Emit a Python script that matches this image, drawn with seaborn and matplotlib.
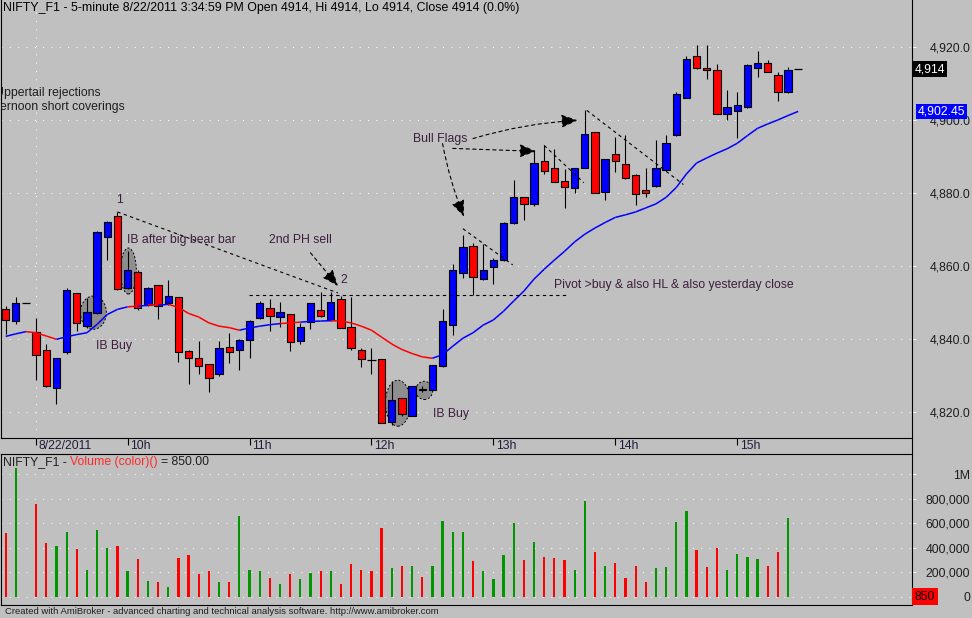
import numpy as np
import pandas as pd
import seaborn as sns
import matplotlib.pyplot as plt
from matplotlib.collections import LineCollection
from matplotlib.patches import Ellipse
from matplotlib.lines import Line2D
from matplotlib.ticker import FuncFormatter

# 5-minute bars, index 0..2 = end of previous session, 3 = 9:15 on 8/22
opens = [4848.3, 4845.0, 4850.0, 4842.0, 4837.2, 4826.7, 4836.5, 4852.6, 4843.6, 4847.3,
         4867.9, 4873.8, 4854.0, 4858.5, 4849.4, 4854.8, 4849.9, 4851.5, 4836.8, 4834.8,
         4833.1, 4830.4, 4837.9, 4837.0, 4839.7, 4845.7, 4848.7, 4846.0, 4846.8, 4839.5,
         4844.7, 4848.1, 4845.2, 4851.0, 4843.4, 4837.2, 4834.4, 4834.5, 4817.3, 4823.8,
         4819.1, 4826.4, 4826.0, 4832.8, 4843.8, 4858.3, 4865.6, 4856.5, 4859.8, 4861.7,
         4871.8, 4878.9, 4877.1, 4888.8, 4886.8, 4883.3, 4881.5, 4887.0, 4896.7, 4880.4,
         4890.8, 4888.0, 4885.0, 4881.0, 4882.0, 4886.4, 4896.0, 4906.2, 4917.5, 4914.4,
         4913.9, 4901.8, 4902.6, 4903.6, 4914.4, 4915.8, 4912.3, 4907.7, 4914.0]
highs = [4849.1, 4851.7, 4850.0, 4845.7, 4838.8, 4835.0, 4854.0, 4852.8, 4851.4, 4869.7,
         4872.5, 4875.0, 4864.2, 4859.0, 4854.2, 4855.0, 4856.3, 4851.7, 4837.0, 4839.5,
         4833.3, 4839.5, 4841.6, 4840.0, 4845.2, 4850.5, 4851.0, 4850.2, 4847.0, 4844.4,
         4850.0, 4853.0, 4853.0, 4851.9, 4851.6, 4837.5, 4837.7, 4834.5, 4828.5, 4824.0,
         4827.3, 4827.3, 4833.0, 4848.2, 4860.7, 4868.5, 4866.5, 4866.2, 4862.4, 4872.2,
         4883.7, 4879.1, 4891.9, 4893.1, 4892.2, 4886.7, 4887.0, 4902.7, 4896.9, 4889.5,
         4895.5, 4896.0, 4885.2, 4886.8, 4894.5, 4896.1, 4907.7, 4917.5, 4920.5, 4920.5,
         4915.3, 4908.4, 4907.7, 4915.5, 4918.9, 4916.4, 4913.2, 4914.6, 4914.0]
lows = [4841.4, 4844.1, 4850.0, 4828.8, 4827.0, 4822.3, 4836.0, 4842.3, 4843.2, 4847.0,
        4861.8, 4853.5, 4853.8, 4848.0, 4849.0, 4845.6, 4849.5, 4833.7, 4827.8, 4830.4,
        4825.6, 4830.0, 4833.5, 4831.5, 4834.9, 4845.5, 4842.4, 4843.5, 4836.8, 4838.8,
        4842.7, 4846.0, 4845.0, 4843.0, 4837.0, 4832.5, 4830.5, 4817.0, 4816.6, 4819.0,
        4819.0, 4825.6, 4826.0, 4832.5, 4841.3, 4856.9, 4852.2, 4856.3, 4855.1, 4861.5,
        4871.6, 4872.7, 4876.6, 4885.3, 4883.0, 4876.1, 4880.0, 4886.8, 4880.0, 4878.2,
        4885.9, 4884.0, 4876.8, 4879.1, 4881.8, 4886.2, 4895.8, 4906.0, 4914.1, 4911.4,
        4901.8, 4900.1, 4895.2, 4903.4, 4911.8, 4913.3, 4905.4, 4907.5, 4914.0]
closes = [4845.3, 4849.9, 4850.0, 4835.7, 4827.3, 4834.9, 4853.4, 4844.4, 4847.5, 4869.5,
          4872.2, 4853.9, 4859.0, 4848.7, 4854.0, 4849.1, 4851.8, 4836.4, 4834.8, 4832.8,
          4829.3, 4837.7, 4836.4, 4839.7, 4845.0, 4849.9, 4846.3, 4847.5, 4839.2, 4843.5,
          4849.9, 4846.3, 4850.2, 4843.0, 4837.5, 4834.6, 4834.4, 4817.2, 4823.4, 4819.4,
          4827.3, 4826.0, 4832.9, 4845.0, 4858.9, 4865.3, 4857.1, 4859.0, 4861.7, 4871.8,
          4878.9, 4877.1, 4888.3, 4886.2, 4883.2, 4881.8, 4886.8, 4896.3, 4880.1, 4889.3,
          4888.9, 4884.2, 4879.8, 4880.2, 4887.0, 4893.8, 4907.3, 4916.9, 4914.4, 4913.9,
          4901.8, 4903.6, 4904.3, 4915.2, 4915.8, 4913.3, 4907.7, 4913.9, 4914.0]
ema = [4840.8, 4841.5, 4842.1, 4841.8, 4840.9, 4840.0, 4840.7, 4841.3, 4841.8, 4844.1,
       4846.8, 4848.2, 4848.9, 4849.1, 4849.3, 4849.3, 4849.6, 4848.7, 4847.1, 4846.1,
       4844.5, 4843.6, 4843.2, 4842.5, 4843.1, 4843.6, 4844.0, 4844.3, 4844.5, 4844.7,
       4844.9, 4845.0, 4845.1, 4845.0, 4844.5, 4843.6, 4842.5, 4840.6, 4838.7, 4837.2,
       4836.1, 4835.2, 4834.8, 4835.8, 4838.1, 4840.3, 4841.8, 4843.9, 4845.3, 4847.7,
       4850.5, 4853.2, 4856.5, 4859.2, 4861.7, 4864.1, 4866.7, 4868.8, 4870.5, 4872.0,
       4873.4, 4874.1, 4874.9, 4876.0, 4877.1, 4878.9, 4881.6, 4885.3, 4888.3, 4889.7,
       4891.0, 4892.2, 4893.7, 4895.8, 4897.8, 4899.0, 4900.1, 4901.3, 4902.45]
volumes = [522000, 1055000, 0, 756000, 439000, 414000, 531000, 389000, 222000, 547000,
           397000, 414000, 206000, 306000, 131000, 122000, 81000, 314000, 339000, 189000,
           206000, 122000, 122000, 656000, 222000, 214000, 156000, 106000, 189000, 147000,
           197000, 206000, 206000, 106000, 264000, 222000, 214000, 564000, 231000, 247000,
           250000, 164000, 250000, 622000, 531000, 531000, 289000, 214000, 147000, 339000,
           606000, 297000, 447000, 322000, 314000, 297000, 222000, 781000, 364000, 247000,
           272000, 156000, 247000, 122000, 231000, 239000, 614000, 697000, 381000, 239000,
           397000, 222000, 347000, 322000, 306000, 247000, 364000, 639000, 850]

hour_ticks = [3, 12, 24, 36, 48, 60, 72]
hour_labels = ['8/22/2011', '10h', '11h', '12h', '13h', '14h', '15h']
price_ticks = [4820, 4840, 4860, 4880, 4900, 4920]
vol_ticks = [0, 200000, 400000, 600000, 800000, 1000000]

BG = '#c0c0c0'
NOTE = '#3c1e3c'
FS = 8.8

sns.set_theme(style='white', rc={'axes.facecolor': BG, 'figure.facecolor': BG,
                                 'axes.edgecolor': 'black', 'axes.linewidth': 0.8})
plt.rcParams['font.family'] = ['Liberation Sans', 'DejaVu Sans']

df = pd.DataFrame({'bar': np.arange(len(closes)), 'open': opens, 'high': highs,
                   'low': lows, 'close': closes, 'ema': ema, 'volume': volumes})
df['dir'] = np.where(df.close > df.open, 'up', np.where(df.close < df.open, 'down', 'flat'))
df['vcol'] = np.where(df.close > df.open, 'up', 'down')

W, H = 972, 618
fig = plt.figure(figsize=(W / 100, H / 100), dpi=100)
fy = lambda p: 1 - p / H
ax = fig.add_axes([1 / W, fy(438), 911 / W, 438 / H])
axv = fig.add_axes([1 / W, fy(604.5), 911 / W, 150.5 / H])

# ---- price pane
ax.vlines(df.bar, df.low, df.high, color='black', lw=0.8, zorder=3)
for d, col in [('up', '#0000ff'), ('down', '#ff0000')]:
    s = df[df.dir == d]
    ax.bar(s.bar, (s.close - s.open).abs(), bottom=np.minimum(s.open, s.close), width=0.72,
           color=col, edgecolor='black', linewidth=0.8, zorder=3.5)
s = df[df.dir == 'flat']
ax.hlines(s.close, s.bar - 0.42, s.bar + 0.42, color='black', lw=0.9, zorder=3.5)

pts = np.column_stack([df.bar, df.ema])
segs = np.stack([pts[:-1], pts[1:]], axis=1)
seg_cols = np.where(df.close.values[1:] >= df.ema.values[1:], '#0000ff', '#ff0000')
ax.add_collection(LineCollection(segs, colors=seg_cols, linewidths=1.1, zorder=4))

# highlight ellipses
for cx, cy, w, h in [(8.63, 4847.3, 2.56, 9.1), (12.08, 4858.7, 1.57, 12.6),
                     (38.6, 4822.5, 2.46, 12.6), (41.2, 4826.0, 1.67, 5.0)]:
    ax.add_patch(Ellipse((cx, cy), w, h, facecolor='#8e8e8e', edgecolor='black',
                         linestyle=(0, (2, 2)), lw=0.7, zorder=2))

# dashed lines and arrows
for (x0, y0), (x1, y1) in [((11.0, 4874.9), (32.7, 4852.7)), ((23.9, 4852.1), (55.1, 4852.1)),
                           ((45.0, 4870.3), (49.9, 4860.4)), ((53.0, 4893.1), (56.9, 4882.9)),
                           ((57.2, 4902.7), (66.7, 4882.4))]:
    ax.plot([x0, x1], [y0, y1], color='black', lw=0.8, linestyle=(0, (3, 3)), zorder=5)
for start, end, rad in [((30.0, 4863.7), (32.7, 4854.6), 0), ((46.0, 4895.0), (56.3, 4900.0), -0.06),
                        ((44.0, 4892.3), (52.2, 4891.5), 0), ((43.0, 4893.6), (45.1, 4873.6), 0.05)]:
    ax.annotate('', xy=end, xytext=start,
                arrowprops=dict(arrowstyle='-|>,head_length=0.5,head_width=0.2', mutation_scale=20,
                                linestyle=(0, (3, 3)), color='black', lw=0.8, shrinkA=0, shrinkB=0,
                                connectionstyle=f'arc3,rad={rad}'), zorder=5)

notes = [('1', 11.2, 4878.2, 'center'), ('IB after big bear bar', 11.95, 4867.3, 'left'),
         ('IB Buy', 8.9, 4838.1, 'left'), ('2nd PH sell', 25.95, 4867.3, 'left'),
         ('2', 32.9, 4856.3, 'left'), ('IB Buy', 42.1, 4819.5, 'left'),
         ('Bull Flags', 40.1, 4895.0, 'left'),
         ('Pivot >buy & also HL & also yesterday close', 54.0, 4854.9, 'left')]
for txt, x, y, ha in notes:
    ax.text(x, y, txt, ha=ha, va='center', color=NOTE, fontsize=FS, zorder=6)
# these two notes run off the left edge in the original
ax.text(9.38, 4907.6, 'Uppertail rejections', ha='right', va='center', color='#1e1e1e',
        fontsize=FS, clip_on=True)
ax.text(11.75, 4903.7, 'Afternoon short coverings', ha='right', va='center', color='#1e1e1e',
        fontsize=FS, clip_on=True)

ax.set_xlim(-0.46, 89.2)
ax.set_ylim(4812.96, 4932.96)
ax.yaxis.tick_right()
ax.set_yticks(price_ticks)
ax.yaxis.set_major_formatter(FuncFormatter(lambda v, p: f'{v:,.1f}'))
ax.tick_params(axis='y', length=3, width=0.8, color='white', pad=39, labelsize=FS,
               labelcolor='#1e1e1e')
for lab in ax.get_yticklabels():
    lab.set_horizontalalignment('right')
ax.grid(axis='y', color='white', linestyle=(0, (1, 7.33)), linewidth=0.72)
ax.axvline(3, color='white', linestyle=(0, (1, 7.33)), linewidth=0.72, zorder=0.5)
ax.set_xticks(hour_ticks)
ax.tick_params(axis='x', direction='out', length=5, width=0.8, color='black', labelbottom=False,
               bottom=True)
for t, lab in zip(hour_ticks, hour_labels):
    ax.annotate(lab, xy=(t, 0), xycoords=('data', 'axes fraction'), xytext=(2.0, -6.0),
                textcoords='offset points', ha='left', va='center', fontsize=FS,
                color='#1e1e3c', annotation_clip=False)
ax.spines['top'].set_visible(False)

ax.annotate('4,914', xy=(1.0, 4914), xycoords=('axes fraction', 'data'), xytext=(2.0, 0),
            textcoords='offset points', ha='left', va='center', color='white', fontsize=FS,
            bbox=dict(boxstyle='square,pad=0.14', fc='black', ec='none'), annotation_clip=False,
            zorder=10)
ax.annotate('4,902.45', xy=(1.0, 4902.45), xycoords=('axes fraction', 'data'), xytext=(4.0, 0),
            textcoords='offset points', ha='left', va='center', color='white', fontsize=FS,
            bbox=dict(boxstyle='square,pad=0.12', fc='#0000ff', ec='none'), annotation_clip=False,
            zorder=10)

# ---- volume pane
sns.barplot(data=df, x='bar', y='volume', hue='vcol', palette={'up': '#009600', 'down': '#ff0000'},
            native_scale=True, width=0.22, dodge=False, errorbar=None, saturation=1,
            legend=False, linewidth=0, ax=axv)
axv.set_xlim(-0.46, 89.2)
axv.set_ylim(-63700, 1166000)
axv.set_xlabel('')
axv.set_ylabel('')
axv.set_xticks([])
axv.yaxis.tick_right()
axv.set_yticks(vol_ticks)
axv.yaxis.set_major_formatter(FuncFormatter(lambda v, p: '1M' if v >= 1e6 else f'{v:,.0f}'))
axv.tick_params(axis='y', length=3, width=0.8, color='white', pad=39, labelsize=FS,
                labelcolor='#1e1e1e')
for lab in axv.get_yticklabels():
    lab.set_horizontalalignment('right')
axv.grid(axis='y', color='white', linestyle=(0, (1, 7.33)), linewidth=0.72)

t1 = axv.text(2 / 911, 1 - 8 / 150.5, 'NIFTY_F1 -', transform=axv.transAxes, va='center',
              ha='left', fontsize=FS, color='#1e1e1e')
t2 = axv.annotate('Volume (color)()', xy=(1, 0), xycoords=t1, xytext=(2.4, 0),
                  textcoords='offset points', va='bottom', ha='left', fontsize=FS, color='#ff2a2a')
axv.annotate('= 850.00', xy=(1, 0), xycoords=t2, xytext=(2.4, 0), textcoords='offset points',
             va='bottom', ha='left', fontsize=FS, color='#1e1e1e')
axv.annotate('850', xy=(1.0, 0), xycoords=('axes fraction', 'data'), xytext=(2.0, 0),
             textcoords='offset points', ha='left', va='center', color='black', fontsize=FS,
             bbox=dict(boxstyle='square,pad=0.22', fc='#ff0000', ec='none'), annotation_clip=False,
             zorder=10)

fig.add_artist(Line2D([912 / W, 912 / W], [fy(438), fy(454)], color='black', lw=0.8))
fig.text(3 / W, fy(8), 'NIFTY_F1 - 5-minute 8/22/2011 3:34:59 PM Open 4914, Hi 4914, Lo 4914, '
         'Close 4914 (0.0%)', ha='left', va='center', fontsize=8.9, color='black')
fig.text(5 / W, fy(611), 'Created with AmiBroker - advanced charting and technical analysis '
         'software. http://www.amibroker.com', ha='left', va='center', fontsize=6.8,
         color='#1e1e1e')

fig.savefig('out.png', dpi=100)
